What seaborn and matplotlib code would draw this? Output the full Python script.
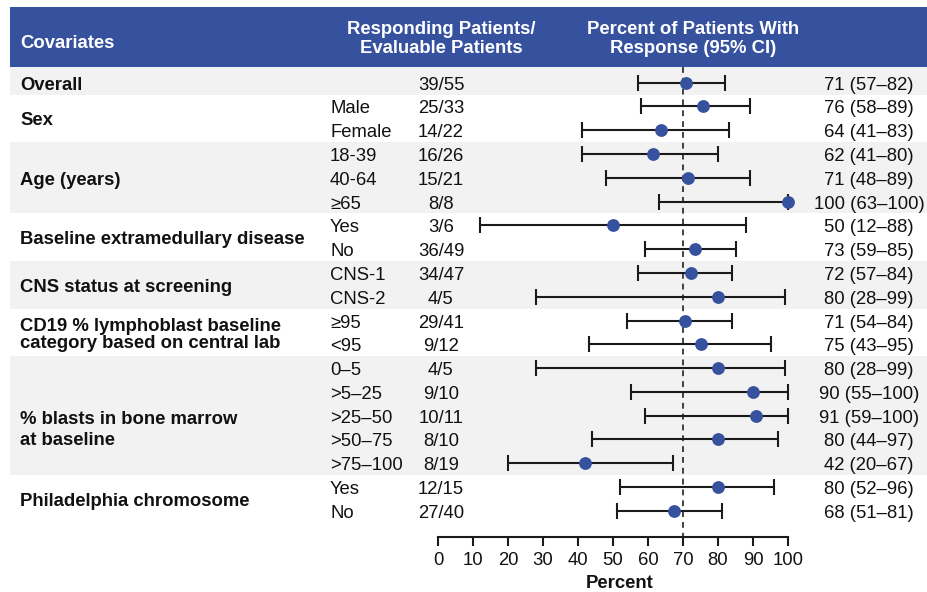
import matplotlib
matplotlib.use("Agg")
import matplotlib.pyplot as plt
import seaborn as sns
import pandas as pd

# ---------------- data ----------------
groups = ["Overall", "Sex", "Age (years)", "Baseline extramedullary disease",
          "CNS status at screening",
          "CD19 % lymphoblast baseline\ncategory based on central lab",
          "% blasts in bone marrow\nat baseline", "Philadelphia chromosome"]
group_sizes = [1, 2, 3, 2, 2, 2, 5, 2]
subgroups = ["", "Male", "Female", "18-39", "40-64", "≥65", "Yes", "No",
             "CNS-1", "CNS-2", "≥95", "<95", "0–5", ">5–25", ">25–50",
             ">50–75", ">75–100", "Yes", "No"]
responders = ["39/55", "25/33", "14/22", "16/26", "15/21", "8/8", "3/6", "36/49",
              "34/47", "4/5", "29/41", "9/12", "4/5", "9/10", "10/11", "8/10",
              "8/19", "12/15", "27/40"]
estimate = [70.9, 75.8, 63.6, 61.5, 71.4, 100, 50, 73.5, 72.3, 80, 70.7, 75,
            80, 90, 90.9, 80, 42.1, 80, 67.5]
ci_low = [57, 58, 41, 41, 48, 63, 12, 59, 57, 28, 54, 43, 28, 55, 59, 44, 20, 52, 51]
ci_high = [82, 89, 83, 80, 89, 100, 88, 85, 84, 99, 84, 95, 99, 100, 100, 97, 67, 96, 81]
ci_labels = ["71 (57–82)", "76 (58–89)", "64 (41–83)", "62 (41–80)", "71 (48–89)",
             "100 (63–100)", "50 (12–88)", "73 (59–85)", "72 (57–84)", "80 (28–99)",
             "71 (54–84)", "75 (43–95)", "80 (28–99)", "90 (55–100)", "91 (59–100)",
             "80 (44–97)", "42 (20–67)", "80 (52–96)", "68 (51–81)"]
xticks = [0, 10, 20, 30, 40, 50, 60, 70, 80, 90, 100]
ref_value = 70

# ---------------- style ----------------
sns.set_theme(style="white")
plt.rcParams["font.family"] = ["Liberation Sans", "DejaVu Sans"]
FS = 13.3
BLUE = "#36519e"
GRAY = "#f2f2f2"
TXT = "#111111"

W, H = 928, 592
fig = plt.figure(figsize=(W / 100, H / 100), dpi=100)
ax = fig.add_axes([0, 0, 1, 1])

# pixel geometry -> data geometry
X0PX, X100PX = 438, 788
ppu = (X100PX - X0PX) / 100.0
ROW0PX, ROWPX = 82.7, 23.78
DY = 2.5 / ROWPX  # small downward shift of text relative to marks


def px2x(px):
    return (px - X0PX) / ppu


def py2y(py):
    return (py - ROW0PX) / ROWPX


ax.set_xlim(px2x(0), px2x(W))
ax.set_ylim(py2y(H), py2y(0))

n = len(subgroups)
rows = list(range(n))
df = pd.DataFrame({"row": rows, "est": estimate, "lo": ci_low, "hi": ci_high})

# header banner
ax.axhspan(py2y(7), py2y(67), xmin=10 / W, xmax=1, color=BLUE, lw=0, zorder=0)

# alternating group bands + group labels
start = 0
for gi, (g, s) in enumerate(zip(groups, group_sizes)):
    top = start - 0.5 if gi > 0 else py2y(67)
    bot = start + s - 0.5
    if gi % 2 == 0:
        ax.axhspan(top, bot, xmin=10 / W, xmax=1, color=GRAY, lw=0, zorder=0)
    if "\n" in g and s > 2:
        ycen, ls = start + 2.5, 1.37
    elif "\n" in g:
        ycen, ls = start + 0.5, 1.05
    else:
        ycen, ls = start + (s - 1) / 2.0, 1.0
    ax.text(px2x(20), ycen + DY, g, ha="left", va="center", fontsize=FS,
            fontweight="bold", color=TXT, linespacing=ls, zorder=3)
    start += s

# header text
ax.text(px2x(20), py2y(44), "Covariates", ha="left", va="center", color="white",
        fontsize=FS, fontweight="bold")
ax.text(px2x(441), py2y(39), "Responding Patients/\nEvaluable Patients",
        ha="center", va="center", color="white", fontsize=FS, fontweight="bold",
        linespacing=1.1)
ax.text(px2x(693), py2y(39), "Percent of Patients With\nResponse (95% CI)",
        ha="center", va="center", color="white", fontsize=FS, fontweight="bold",
        linespacing=1.1)

# columns
for r in rows:
    ax.text(px2x(330), r + DY, subgroups[r], ha="left", va="center", fontsize=FS,
            color=TXT)
    ax.text(px2x(441), r + DY, responders[r], ha="center", va="center",
            fontsize=FS, color=TXT)
    ax.text(px2x(869), r + DY, ci_labels[r], ha="center", va="center",
            fontsize=FS, color=TXT)

# reference line
axis_y = py2y(537)
ax.vlines(ref_value, py2y(67), axis_y, colors="#222222", lw=1.2,
          linestyles=(0, (3.5, 3)), zorder=2)

# CIs and point estimates
ax.errorbar(df["est"], df["row"],
            xerr=[df["est"] - df["lo"], df["hi"] - df["est"]],
            fmt="none", ecolor="#1a1a1a", elinewidth=1.5, capsize=5.8,
            capthick=1.5, zorder=3)
sns.scatterplot(data=df, x="est", y="row", ax=ax, s=85, color=BLUE,
                edgecolor=BLUE, linewidth=0, zorder=4, legend=False)

# x axis
for side in ["top", "right", "left"]:
    ax.spines[side].set_visible(False)
ax.spines["bottom"].set_position(("data", axis_y))
ax.spines["bottom"].set_bounds(0, 100)
ax.spines["bottom"].set_linewidth(1.5)
ax.spines["bottom"].set_color("#1a1a1a")
ax.set_xticks(xticks)
ax.set_xticklabels([str(t) for t in xticks])
ax.tick_params(axis="x", bottom=True, direction="out", length=6.5, width=1.5,
               color="#1a1a1a", labelsize=FS, pad=4.5, labelcolor=TXT)
ax.set_yticks([])
ax.set_xlabel("")
ax.set_ylabel("")
ax.text(px2x(620), py2y(583), "Percent", ha="center", va="center", fontsize=FS,
        fontweight="bold", color=TXT)

fig.savefig("out.png", dpi=100)
